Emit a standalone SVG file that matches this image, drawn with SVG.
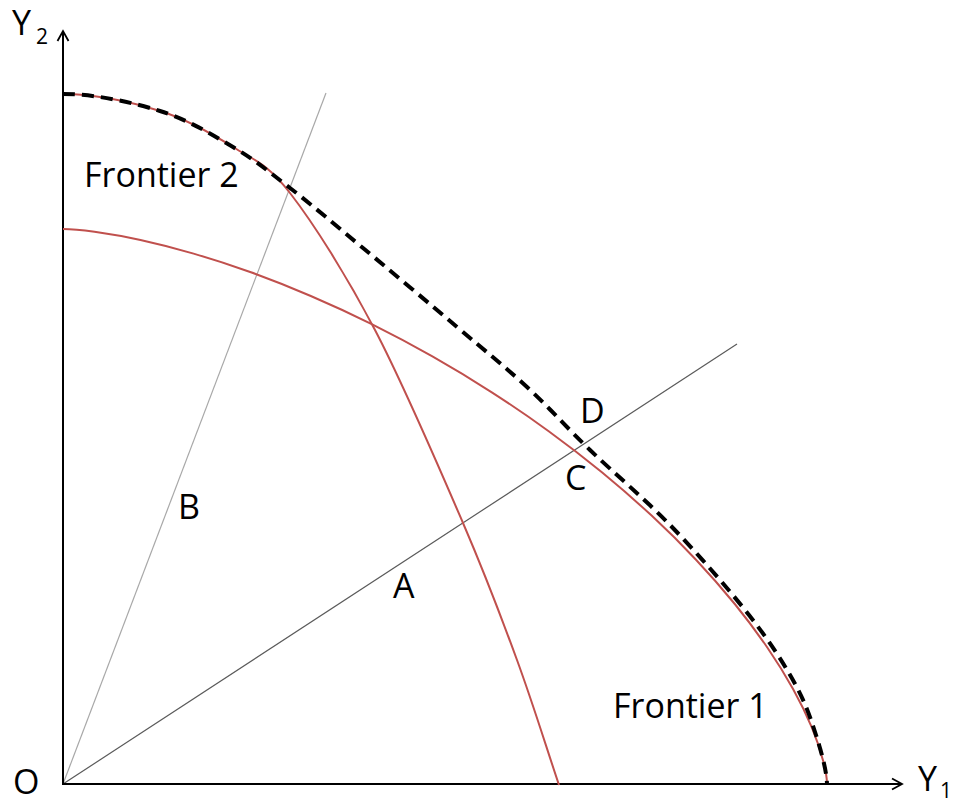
<svg xmlns="http://www.w3.org/2000/svg" width="953" height="803" viewBox="0 0 953 803">
<style>
.lbl{font-family:"Open Sans","Liberation Sans",sans-serif;font-size:34px;fill:#000}
.sub{font-family:"Open Sans","Liberation Sans",sans-serif;font-size:21px;fill:#000}
.axis{stroke:#000;stroke-width:2;fill:none}
.front{stroke:#c0504d;stroke-width:2;fill:none;stroke-linejoin:round}
.env{stroke:#000;stroke-width:4;fill:none;stroke-dasharray:12 7}
.rayA{stroke:#5a5a5a;stroke-width:1.2;fill:none}
.rayB{stroke:#a8a8a8;stroke-width:1.2;fill:none}
</style>
<defs>
<marker id="arr" markerUnits="userSpaceOnUse" markerWidth="14" markerHeight="14" refX="12" refY="7" orient="auto">
<path d="M2,1.5 L12,7 L2,12.5" fill="none" stroke="#000" stroke-width="1.8"/>
</marker>
</defs>
<rect width="953" height="803" fill="#fff"/>
<g id="connectors">
<line id="rayB" class="rayB" x1="63" y1="784" x2="326" y2="93"/>
<line id="rayA" class="rayA" x1="63" y1="784" x2="737" y2="344"/>
<line id="axisY" class="axis" x1="63" y1="785" x2="63" y2="31" marker-end="url(#arr)"/>
<line id="axisX" class="axis" x1="62" y1="784" x2="902" y2="784" marker-end="url(#arr)"/>
</g>
<g id="frontier1">
<path class="front" d="M63,229 C73.5,229 81.58,229.97 94.5,231.8 C107.42,233.63 123.98,236.37 140.5,240 C157.02,243.63 175.2,248.22 193.6,253.6 C212,258.98 231.37,265.23 250.9,272.3 C270.43,279.37 290.67,287.37 310.8,296 C330.93,304.63 351.43,314.03 371.7,324.1 C391.97,334.17 412.38,345.03 432.4,356.4 C452.42,367.77 472.42,379.83 491.8,392.3 C511.18,404.77 530.3,417.83 548.7,431.2 C567.1,444.57 585.05,458.43 602.2,472.5 C619.35,486.57 635.97,501.07 651.6,515.6 C667.23,530.13 682.13,544.97 696,559.7 C709.87,574.43 722.92,589.37 734.8,604 C746.68,618.63 757.57,633.3 767.3,647.5 C777.03,661.7 785.770,675.83 793.2,689.2 C800.63,702.57 806.9,715.72 811.9,727.7 C816.9,739.68 820.68,751.72 823.2,761.1 C825.72,770.48 827,776.4 827,784"/>
<text class="lbl" x="613" y="718">Frontier 1</text>
</g>
<g id="frontier2">
<path class="front" d="M63,94 C95,94 131.7,102.2 160,111 C188.3,119.8 211.3,133.3 233,147 C254.7,160.7 266.3,162.5 290,193 C313.7,223.5 346.2,275 375,330 C403.8,385 439.3,468 463,523 C486.7,578 501,616.3 517,660 C533,703.7 545,743.3 559,785"/>
<text class="lbl" x="84" y="187">Frontier 2</text>
</g>
<g id="envelope">
<path class="env" d="M63,94 C95,94 131.7,102.2 160,111 C188.3,119.8 211.3,134.2 233,147 C254.7,159.8 268.3,171.2 290,188 C311.7,204.8 335.2,224.8 363,248 C390.8,271.2 429.7,303.8 457,327 C484.3,350.2 504.8,366.5 527,387 C549.2,407.5 565.8,426.7 590,450 C614.2,473.3 645.5,499.5 672,527 C698.5,554.5 728.7,589.2 749,615 C769.3,640.8 782.8,662 794,682 C805.2,702 810.5,717.8 816,735 C821.5,752.2 827,772 827,785"/>
</g>
<g id="labels">
<text class="lbl" x="178" y="519">B</text>
<text class="lbl" x="393" y="598">A</text>
<text class="lbl" x="580" y="423">D</text>
<text class="lbl" x="565" y="490">C</text>
<text class="lbl" x="13" y="794">O</text>
<text class="lbl" x="12" y="35">Y</text>
<text class="sub" x="36" y="44">2</text>
<text class="lbl" x="918" y="791">Y</text>
<text class="sub" x="940" y="798">1</text>
</g>
</svg>
